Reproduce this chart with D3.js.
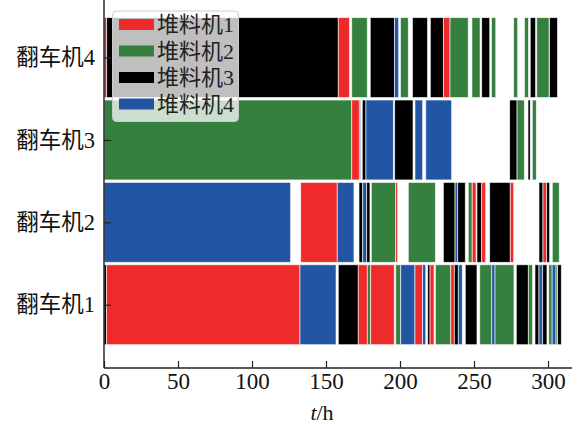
<!DOCTYPE html>
<html><head><meta charset="utf-8">
<script src="https://cdn.jsdelivr.net/npm/d3@7/dist/d3.min.js"></script>
<style>
html,body{margin:0;padding:0;background:#fff;}
svg{display:block;}
</style></head>
<body>
<script>
// ---- DATA ----
const rowLabels = ["翻车机1", "翻车机2", "翻车机3", "翻车机4"];
const stackers = ["堆料机1", "堆料机2", "堆料机3", "堆料机4"];
const stackerColors = ["#ee2a2a", "#36803f", "#000000", "#2256a5"];
const xTicks = [0, 50, 100, 150, 200, 250, 300];
// each segment: [start (h), end (h), stacker index 0..3]
const dumper1 = [
  [0, 1.7, 2], [1.7, 132.4, 0], [132.4, 156.8, 3], [158.3, 171.8, 2], [171.8, 177.9, 0],
  [177.9, 180.2, 1], [180.2, 196.1, 0], [197.1, 200.5, 1], [200.5, 210.1, 3], [210.1, 215.3, 0],
  [215.3, 217.4, 3], [218.7, 220.3, 2], [220.3, 223.0, 0], [223.9, 234.3, 1], [234.3, 236.7, 0],
  [236.7, 239.4, 2], [239.4, 242.1, 3], [244.1, 252.0, 2], [253.9, 262.0, 1], [262.0, 264.2, 3],
  [264.2, 277.0, 1], [278.6, 286.7, 2], [286.7, 289.6, 1], [291.2, 293.9, 2], [293.9, 296.4, 3],
  [296.4, 299.3, 2], [300.5, 302.8, 1], [302.8, 305.4, 3], [305.4, 306.5, 1], [306.5, 309.0, 2]
];
const dumper2 = [
  [0, 126.1, 3], [132.9, 157.6, 0], [157.6, 168.9, 3], [172.3, 174.8, 2], [174.8, 177.5, 3],
  [177.5, 179.7, 2], [180.6, 197.1, 1], [197.1, 198.4, 0], [205.6, 223.9, 1], [229.3, 237.2, 2],
  [237.2, 239.0, 3], [239.0, 244.1, 2], [246.1, 248.8, 1], [248.8, 251.4, 0], [252.0, 255.2, 2],
  [255.2, 257.9, 0], [260.6, 274.5, 2], [274.5, 276.8, 0], [293.9, 296.6, 2], [296.6, 299.1, 0],
  [299.1, 301.1, 2], [302.9, 307.6, 1]
];
const dumper3 = [
  [0, 167.4, 1], [167.4, 172.5, 0], [172.5, 173.4, 3], [174.5, 177.0, 2], [177.0, 195.5, 3],
  [196.4, 208.8, 2], [210.1, 215.3, 3], [217.4, 234.9, 3], [274.1, 279.1, 2], [279.1, 284.0, 1],
  [286.5, 288.0, 2], [289.4, 292.1, 1]
];
const dumper4 = [
  [0, 1.8, 0], [1.8, 158.3, 2], [158.3, 165.9, 0], [167.4, 177.9, 1], [179.9, 196.3, 2],
  [196.3, 199.1, 3], [200.3, 205.6, 1], [208.4, 218.6, 2], [220.5, 229.3, 2], [229.3, 233.8, 0],
  [233.8, 246.1, 1], [248.6, 254.1, 1], [255.2, 260.6, 2], [261.8, 264.7, 1], [276.8, 279.5, 1],
  [284.1, 286.8, 1], [288.0, 291.6, 2], [292.4, 300.7, 1], [301.0, 306.4, 2]
];
const schedule = [dumper1, dumper2, dumper3, dumper4];

// ---- LAYOUT ----
const W = 584, H = 425;
const svg = d3.select("body").append("svg").attr("width", W).attr("height", H);
const x = d3.scaleLinear().domain([0, 300]).range([104, 548]);
const y = d3.scaleLinear().domain([-0.768, 3]).range([368, 57.6]);
const barH = y(0) - y(0.97);
const serif = "'Liberation Serif', 'Noto Sans CJK SC', serif";

// bars
schedule.forEach((segs, r) => {
  svg.append("g").selectAll("rect").data(segs).join("rect")
    .attr("x", d => x(d[0]))
    .attr("width", d => Math.max(0.5, x(d[1]) - x(d[0])))
    .attr("y", y(r) - barH / 2)
    .attr("height", barH)
    .attr("fill", d => stackerColors[d[2]])
    .attr("stroke", "#ffffff").attr("stroke-opacity", 0.75).attr("stroke-width", 0.8);
});

// x axis
const xAxis = d3.axisBottom(x).tickValues(xTicks).tickSizeInner(-7).tickSizeOuter(0).tickPadding(5);
const gx = svg.append("g").attr("transform", "translate(0,368)").call(xAxis);
gx.select(".domain").attr("d", "M104,0H572").attr("stroke", "#222").attr("stroke-width", 1.4);
gx.selectAll(".tick line").attr("stroke", "#222").attr("stroke-width", 1.2);
gx.selectAll(".tick text").attr("font-family", serif).attr("font-size", 23).attr("fill", "#111");

// y axis
const yAxis = d3.axisLeft(y).tickValues([0, 1, 2, 3]).tickFormat(i => rowLabels[i])
  .tickSizeInner(-7).tickSizeOuter(0).tickPadding(9);
const gy = svg.append("g").attr("transform", "translate(104,0)").call(yAxis);
gy.select(".domain").attr("d", "M0,0V368").attr("stroke", "#222").attr("stroke-width", 1.4);
gy.selectAll(".tick line").attr("stroke", "#222").attr("stroke-width", 1.2);
gy.selectAll(".tick text").attr("font-family", serif).attr("font-size", 22.5).attr("fill", "#111");

// x label
const xl = svg.append("text").attr("x", 322).attr("y", 420).attr("text-anchor", "middle")
  .attr("font-family", serif).attr("font-size", 22).attr("fill", "#111");
xl.append("tspan").attr("font-style", "italic").text("t");
xl.append("tspan").text("/h");

// legend
const lg = svg.append("g");
lg.append("rect").attr("x", 112.5).attr("y", 11).attr("width", 126).attr("height", 110.5)
  .attr("rx", 4).attr("fill", "#ffffff").attr("fill-opacity", 0.75)
  .attr("stroke", "#cccccc").attr("stroke-width", 1);
stackers.forEach((s, i) => {
  const cy = 24.5 + i * 26.5;
  lg.append("rect").attr("x", 119).attr("y", cy - 5.5).attr("width", 35).attr("height", 11)
    .attr("fill", stackerColors[i]);
  lg.append("text").attr("x", 157).attr("y", cy).attr("dy", "0.36em")
    .attr("font-family", serif).attr("font-size", 22).attr("fill", "#222").text(s);
});
</script>
</body></html>
